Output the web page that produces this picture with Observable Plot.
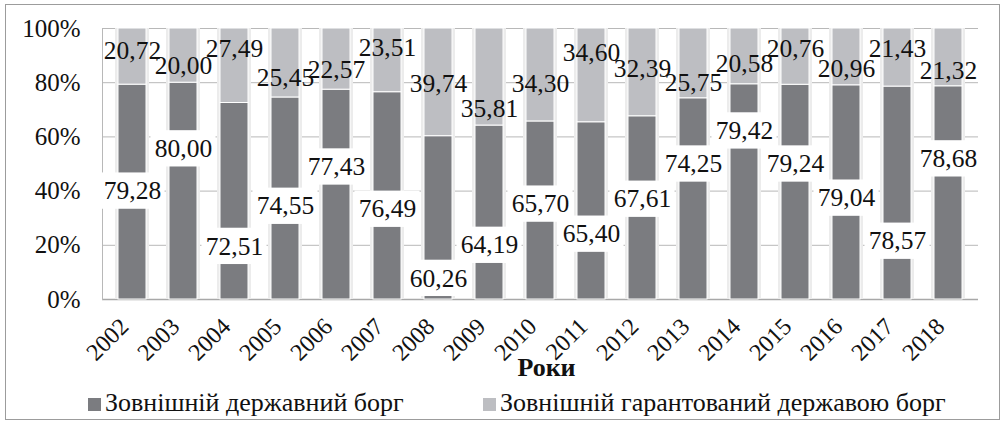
<!DOCTYPE html>
<html>
<head>
<meta charset="utf-8">
<script src="https://cdn.jsdelivr.net/npm/d3@7"></script>
<script src="https://cdn.jsdelivr.net/npm/@observablehq/plot@0.6"></script>
<style>
  html, body { margin: 0; padding: 0; background: #fff; }
  #wrap { position: relative; width: 1004px; height: 421px; overflow: hidden; font-family: "Liberation Serif", Tinos, "Times New Roman", "DejaVu Serif", serif; }
  #border { position: absolute; left: 5px; top: 4px; width: 993px; height: 414px; border: 1px solid #9c9c9c; pointer-events: none; }
  #chart svg { display: block; }
  .leg { position: absolute; top: 390px; height: 26px; line-height: 26px; display: flex; align-items: center; font-size: 26px; color: #111; white-space: nowrap; }
  .sw { width: 13px; height: 13px; margin-right: 4px; margin-top: 2px; flex: none; }
</style>
</head>
<body>
<div id="wrap">
  <div id="chart"></div>
  <div class="leg" style="left:88px"><span class="sw" style="background:#7b7c80"></span><span id="l1"></span></div>
  <div class="leg" style="left:483px"><span class="sw" style="background:#bdbec2"></span><span id="l2"></span></div>
  <div id="border"></div>
</div>
<script>
// ---- data ----
const years = ["2002","2003","2004","2005","2006","2007","2008","2009","2010","2011","2012","2013","2014","2015","2016","2017","2018"];
const stateDebt = [79.28,80.00,72.51,74.55,77.43,76.49,60.26,64.19,65.70,65.40,67.61,74.25,79.42,79.24,79.04,78.57,78.68];
const guaranteedDebt = [20.72,20.00,27.49,25.45,22.57,23.51,39.74,35.81,34.30,34.60,32.39,25.75,20.58,20.76,20.96,21.43,21.32];
// where each data label sits (in % of the column)
const stateLabelAt = [40,55.6,19.6,34.4,48.9,33.3,7.8,20,35.2,24.1,37,50,62.2,50,37.4,21.5,51.9];
const guaranteedLabelAt = [91.9,86.3,92.6,81.9,84.8,93,79.6,70.4,79.6,91.1,85.2,80,87,92.6,85.2,92.6,84.4];
const seriesNames = ["Зовнішній державний борг", "Зовнішній гарантований державою борг"];
const yTicks = [0,20,40,60,80,100];
const xTitle = "Роки";

// ---- build table ----
const rows = [];
years.forEach((y, i) => {
  rows.push({year: y, series: seriesNames[0], value: stateDebt[i]});
  rows.push({year: y, series: seriesNames[1], value: guaranteedDebt[i]});
});
const fmt = v => d3.format(".2f")(v).replace(".", ",");
const stateLabels = years.map((y, i) => ({year: y, value: stateDebt[i], at: stateLabelAt[i]}));
const guarLabels = years.map((y, i) => ({year: y, value: guaranteedDebt[i], at: guaranteedLabelAt[i]}));

const boxHalf = 6.7;
const serif = "'Liberation Serif', Tinos, 'Times New Roman', 'DejaVu Serif', serif";

const chart = Plot.plot({
  width: 1004,
  height: 390,
  marginLeft: 102,
  marginRight: 26,
  marginTop: 28,
  marginBottom: 91,
  style: {fontFamily: serif, background: "transparent", color: "#111"},
  x: {type: "band", domain: years, paddingInner: 0.457, paddingOuter: 0.229, label: null},
  y: {domain: [0, 100], label: null},
  color: {domain: seriesNames, range: ["#7b7c80", "#bdbec2"]},
  marks: [
    Plot.gridY(yTicks, {stroke: "#b8b8b8", strokeOpacity: 1}),
    Plot.ruleY([0], {stroke: "#a8a8a8", strokeWidth: 1.5}),
    Plot.frame({anchor: "left", stroke: "#b8b8b8"}),
    // soft shadow around columns
    Plot.barY(years, {x: d => d, y1: 0, y2: 100, fill: "#ececec", insetLeft: -3, insetRight: -3}),
    Plot.barY(rows, Plot.stackY({x: "year", y: "value", fill: "series", stroke: "white", strokeWidth: 1})),
    // white boxes behind the state-debt labels
    Plot.barY(stateLabels, {x: "year", y1: d => d.at - boxHalf, y2: d => d.at + boxHalf, fill: "white", insetLeft: -18.5, insetRight: -18.5}),
    Plot.text(stateLabels, {x: "year", y: "at", text: d => fmt(d.value), fontSize: 25.5, fill: "#111", fontFamily: serif}),
    Plot.text(guarLabels, {x: "year", y: "at", text: d => fmt(d.value), fontSize: 25.5, fill: "#111", fontFamily: serif}),
    Plot.axisY(yTicks, {tickFormat: d => d + "%", tickSize: 0, tickPadding: 22, fontSize: 25, label: null, fontFamily: serif}),
    Plot.axisX({tickRotate: -45, tickSize: 0, tickPadding: 23, dx: -8, fontSize: 24, label: null, fontFamily: serif}),
    Plot.text([xTitle], {frameAnchor: "bottom", dy: 76, dx: 6, fontWeight: "bold", fontSize: 26, fill: "#111", fontFamily: serif})
  ]
});
document.getElementById("chart").appendChild(chart);
document.getElementById("l1").textContent = seriesNames[0];
document.getElementById("l2").textContent = seriesNames[1];
</script>
</body>
</html>
